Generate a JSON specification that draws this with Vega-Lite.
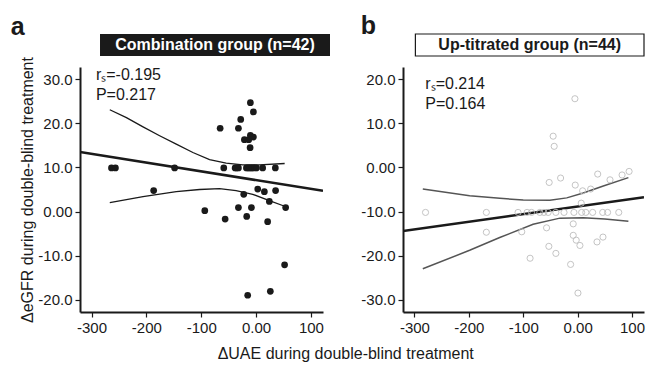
{
  "$schema": "https://vega.github.io/schema/vega-lite/v6.json",
  "background": "white",
  "padding": {"left": 10, "top": 14, "right": 5, "bottom": 1},
  "datasets": {
    "a": [
      {"x": -10.4, "y": 24.7}, {"x": -4.9, "y": 22.6}, {"x": -28, "y": 20.9}, {"x": -65.5, "y": 18.9},
      {"x": -32.2, "y": 18.9}, {"x": -10.4, "y": 17.3}, {"x": -4.9, "y": 16.9}, {"x": -21.3, "y": 16.3},
      {"x": -13.4, "y": 16.3}, {"x": -10.9, "y": 14.5},
      {"x": -263.6, "y": 9.9}, {"x": -256.4, "y": 9.9}, {"x": -148.5, "y": 9.9}, {"x": -58.9, "y": 9.9},
      {"x": -38.2, "y": 9.9}, {"x": -35.5, "y": 9.9}, {"x": -32.2, "y": 9.9}, {"x": -17.6, "y": 9.9},
      {"x": -14.5, "y": 9.9}, {"x": -11.5, "y": 9.9}, {"x": -8.5, "y": 9.9}, {"x": -5.5, "y": 9.9},
      {"x": -2.5, "y": 9.9}, {"x": 0.6, "y": 9.9}, {"x": 12, "y": 9.9}, {"x": 35.1, "y": 9.9},
      {"x": 3, "y": 5.1}, {"x": 15.1, "y": 4.5}, {"x": 35.6, "y": 4.75}, {"x": -22.5, "y": 3.9},
      {"x": 24.2, "y": 2.3}, {"x": -93.5, "y": 0.2}, {"x": -32.2, "y": 0.9}, {"x": -8.5, "y": 0.9},
      {"x": 53.9, "y": 0.9}, {"x": -56.4, "y": -1.7}, {"x": -17.1, "y": -1.1}, {"x": 21.1, "y": -2.3},
      {"x": -186.7, "y": 4.75}, {"x": -15.3, "y": -19.0}, {"x": 26, "y": -18.1}, {"x": 52, "y": -12.1}
    ],
    "aFit": [{"x": -321, "y": 13.5}, {"x": 122, "y": 4.7}],
    "aCI": [
      {"x": -266.7, "y": 23.1, "bound": "upper"}, {"x": -236.4, "y": 21.3, "bound": "upper"},
      {"x": -206.1, "y": 19.2, "bound": "upper"}, {"x": -175.8, "y": 17.2, "bound": "upper"},
      {"x": -145.5, "y": 15.3, "bound": "upper"}, {"x": -115.2, "y": 13.4, "bound": "upper"},
      {"x": -84.8, "y": 11.8, "bound": "upper"}, {"x": -54.5, "y": 11.0, "bound": "upper"},
      {"x": -24.2, "y": 10.6, "bound": "upper"}, {"x": 6.1, "y": 10.6, "bound": "upper"},
      {"x": 52.1, "y": 10.9, "bound": "upper"},
      {"x": -266.7, "y": 2.0, "bound": "lower"}, {"x": -206.1, "y": 3.4, "bound": "lower"},
      {"x": -145.5, "y": 4.5, "bound": "lower"}, {"x": -103, "y": 5.0, "bound": "lower"},
      {"x": -66.7, "y": 5.2, "bound": "lower"}, {"x": -36.4, "y": 4.75, "bound": "lower"},
      {"x": -6.1, "y": 3.9, "bound": "lower"}, {"x": 24.2, "y": 2.5, "bound": "lower"},
      {"x": 52.1, "y": 1.2, "bound": "lower"}
    ],
    "aStat": [{"r": "rₛ=-0.195", "p": "P=0.217"}],
    "b": [
      {"x": -279.6, "y": -10.2}, {"x": -167.8, "y": -10.2}, {"x": -167.8, "y": -14.7}, {"x": -109.5, "y": -10.2},
      {"x": -92.9, "y": -10.2}, {"x": -84.8, "y": -10.2}, {"x": -69.5, "y": -10.2}, {"x": -54.2, "y": -10.2},
      {"x": -40, "y": -10.2}, {"x": -6.8, "y": -10.2}, {"x": 7.4, "y": -10.2}, {"x": 27.6, "y": -10.2},
      {"x": 46.1, "y": -10.2}, {"x": 75.6, "y": -10.2}, {"x": -25, "y": -10.2}, {"x": -62, "y": -10.2},
      {"x": 15, "y": -10.2}, {"x": 55, "y": -10.2},
      {"x": -102.7, "y": -14.6}, {"x": -57.1, "y": -13.7}, {"x": -8.1, "y": -12.8}, {"x": -8.1, "y": -15.4},
      {"x": -2.6, "y": -16.5}, {"x": 4.2, "y": -17.7}, {"x": -52.9, "y": -17.9}, {"x": -40, "y": -19.5},
      {"x": 35.6, "y": -16.9}, {"x": 46.6, "y": -15.8}, {"x": -87.4, "y": -20.6}, {"x": -12.9, "y": -22.0},
      {"x": 0.6, "y": -28.5}, {"x": -5, "y": 15.6}, {"x": -45, "y": 7.1}, {"x": -43.1, "y": 4.8},
      {"x": -52.3, "y": -3.4}, {"x": -31.3, "y": -2.4}, {"x": -4.4, "y": -4.0}, {"x": 9.2, "y": -5.3},
      {"x": 24, "y": -4.9}, {"x": 36.9, "y": -1.5}, {"x": 59.5, "y": -2.8}, {"x": 81.7, "y": -1.7},
      {"x": 94.6, "y": -0.9}, {"x": 6.6, "y": -8.1}
    ],
    "bFit": [{"x": -321, "y": -14.4}, {"x": 122, "y": -6.75}],
    "bCI": [
      {"x": -284.6, "y": -4.9, "bound": "upper"}, {"x": -198.5, "y": -6.4, "bound": "upper"},
      {"x": -143, "y": -7.0, "bound": "upper"}, {"x": -100, "y": -7.4, "bound": "upper"},
      {"x": -51, "y": -7.45, "bound": "upper"}, {"x": -20, "y": -6.9, "bound": "upper"},
      {"x": 10.3, "y": -5.8, "bound": "upper"}, {"x": 47.2, "y": -4.2, "bound": "upper"},
      {"x": 93.3, "y": -2.3, "bound": "upper"},
      {"x": -284.6, "y": -23.0, "bound": "lower"}, {"x": -198.5, "y": -18.8, "bound": "lower"},
      {"x": -143.2, "y": -15.9, "bound": "lower"}, {"x": -81.8, "y": -12.9, "bound": "lower"},
      {"x": -32.6, "y": -11.5, "bound": "lower"}, {"x": 10.3, "y": -11.4, "bound": "lower"},
      {"x": 50, "y": -11.7, "bound": "lower"}, {"x": 93.3, "y": -12.2, "bound": "lower"}
    ],
    "bStat": [{"r": "rₛ=0.214", "p": "P=0.164"}],
    "hA": [{"label": "Combination group (n=42)"}],
    "hB": [{"label": "Up-titrated group (n=44)"}]
  },
  "title": {"text": "ΔUAE during double-blind treatment", "orient": "bottom", "anchor": "middle", "fontSize": 16, "fontWeight": "normal", "offset": 11, "dx": 18},
  "spacing": 30,
  "hconcat": [
    {
      "title": {"text": "a", "anchor": "start", "frame": "bounds", "fontSize": 25, "fontWeight": "bold", "offset": -6, "dx": -9},
      "spacing": 11,
      "bounds": "flush",
      "vconcat": [
        {
          "width": 250, "height": 22,
          "data": {"name": "hA"},
          "layer": [
            {"mark": {"type": "rect", "color": "#1a1a1a"},
             "encoding": {"x": {"field": "label", "type": "nominal", "axis": null, "scale": {"type": "band", "paddingOuter": 0.0435, "paddingInner": 0, "align": 1}}}},
            {"mark": {"type": "text", "color": "white", "fontSize": 16, "fontWeight": "bold"},
             "encoding": {"x": {"field": "label", "type": "nominal", "axis": null}, "text": {"field": "label"}}}
          ]
        },
        {
          "width": 243, "height": 245,
          "layer": [
            {"data": {"name": "aCI"},
             "mark": {"type": "line", "color": "#1a1a1a", "strokeWidth": 1.3},
             "encoding": {
               "x": {"field": "x", "type": "quantitative", "scale": {"domain": [-321, 122], "nice": false, "zero": false},
                     "axis": {"title": null, "values": [-300, -200, -100, 0, 100], "labelExpr": "datum.value == 0 ? '0.00' : (datum.value < 0 ? '-' : '') + format(abs(datum.value), 'd')"}},
               "y": {"field": "y", "type": "quantitative", "scale": {"domain": [-22.8, 32.8], "nice": false, "zero": false},
                     "axis": {"title": "ΔeGFR during double-blind treatment", "titlePadding": 2, "values": [-20, -10, 0, 10, 20, 30], "labelExpr": "datum.value == 0 ? '0.00' : (datum.value < 0 ? '-' : '') + format(abs(datum.value), '.1f')"}},
               "detail": {"field": "bound"}
             }},
            {"data": {"name": "aFit"},
             "mark": {"type": "line", "color": "#1a1a1a", "strokeWidth": 2.5, "clip": true},
             "encoding": {"x": {"field": "x", "type": "quantitative"}, "y": {"field": "y", "type": "quantitative"}}},
            {"data": {"name": "a"},
             "mark": {"type": "point", "filled": true, "color": "#1a1a1a", "opacity": 1, "size": 45},
             "encoding": {"x": {"field": "x", "type": "quantitative"}, "y": {"field": "y", "type": "quantitative"}}},
            {"data": {"name": "aStat"},
             "mark": {"type": "text", "align": "left", "baseline": "middle", "fontSize": 16, "color": "#1a1a1a"},
             "encoding": {"x": {"datum": -292}, "y": {"datum": 31.0}, "text": {"field": "r"}}},
            {"data": {"name": "aStat"},
             "mark": {"type": "text", "align": "left", "baseline": "middle", "fontSize": 16, "color": "#1a1a1a"},
             "encoding": {"x": {"datum": -292}, "y": {"datum": 26.4}, "text": {"field": "p"}}}
          ]
        }
      ]
    },
    {
      "title": {"text": "b", "anchor": "start", "frame": "bounds", "fontSize": 25, "fontWeight": "bold", "offset": -6, "dx": 0},
      "spacing": 11,
      "bounds": "flush",
      "vconcat": [
        {
          "width": 241, "height": 22,
          "data": {"name": "hB"},
          "layer": [
            {"mark": {"type": "rect", "fill": "white", "stroke": "#1a1a1a", "strokeWidth": 1.2},
             "encoding": {"x": {"field": "label", "type": "nominal", "axis": null, "scale": {"type": "band", "paddingOuter": 0.0271, "paddingInner": 0, "align": 1}}}},
            {"mark": {"type": "text", "color": "#1a1a1a", "fontSize": 16, "fontWeight": "bold"},
             "encoding": {"x": {"field": "label", "type": "nominal", "axis": null}, "text": {"field": "label"}}}
          ]
        },
        {
          "width": 241, "height": 245,
          "layer": [
            {"data": {"name": "bCI"},
             "mark": {"type": "line", "color": "#555555", "strokeWidth": 1.5},
             "encoding": {
               "x": {"field": "x", "type": "quantitative", "scale": {"domain": [-321, 122], "nice": false, "zero": false},
                     "axis": {"title": null, "values": [-300, -200, -100, 0, 100], "labelExpr": "datum.value == 0 ? '0.00' : (datum.value < 0 ? '-' : '') + format(abs(datum.value), 'd')"}},
               "y": {"field": "y", "type": "quantitative", "scale": {"domain": [-32.8, 22.8], "nice": false, "zero": false},
                     "axis": {"title": null, "values": [-30, -20, -10, 0, 10, 20], "labelExpr": "datum.value == 0 ? '0.00' : (datum.value < 0 ? '-' : '') + format(abs(datum.value), '.1f')"}},
               "detail": {"field": "bound"}
             }},
            {"data": {"name": "bFit"},
             "mark": {"type": "line", "color": "#1a1a1a", "strokeWidth": 2.5, "clip": true},
             "encoding": {"x": {"field": "x", "type": "quantitative"}, "y": {"field": "y", "type": "quantitative"}}},
            {"data": {"name": "b"},
             "mark": {"type": "point", "filled": false, "color": "#bdbdbd", "strokeWidth": 0.9, "opacity": 1, "size": 38},
             "encoding": {"x": {"field": "x", "type": "quantitative"}, "y": {"field": "y", "type": "quantitative"}}},
            {"data": {"name": "bStat"},
             "mark": {"type": "text", "align": "left", "baseline": "middle", "fontSize": 16, "color": "#1a1a1a"},
             "encoding": {"x": {"datum": -280}, "y": {"datum": 19.0}, "text": {"field": "r"}}},
            {"data": {"name": "bStat"},
             "mark": {"type": "text", "align": "left", "baseline": "middle", "fontSize": 16, "color": "#1a1a1a"},
             "encoding": {"x": {"datum": -280}, "y": {"datum": 14.3}, "text": {"field": "p"}}}
          ]
        }
      ]
    }
  ],
  "config": {
    "font": "Liberation Sans",
    "view": {"stroke": null},
    "axis": {"grid": false, "domainColor": "#1a1a1a", "domainWidth": 2, "tickColor": "#1a1a1a", "tickWidth": 1.2, "tickSize": 5,
             "labelFontSize": 15, "labelColor": "#1a1a1a", "labelFont": "Liberation Sans", "labelPadding": 3,
             "titleFont": "Liberation Sans", "titleFontSize": 16, "titleFontWeight": "normal", "titleColor": "#1a1a1a"},
    "title": {"font": "Liberation Sans", "color": "#1a1a1a"}
  }
}
